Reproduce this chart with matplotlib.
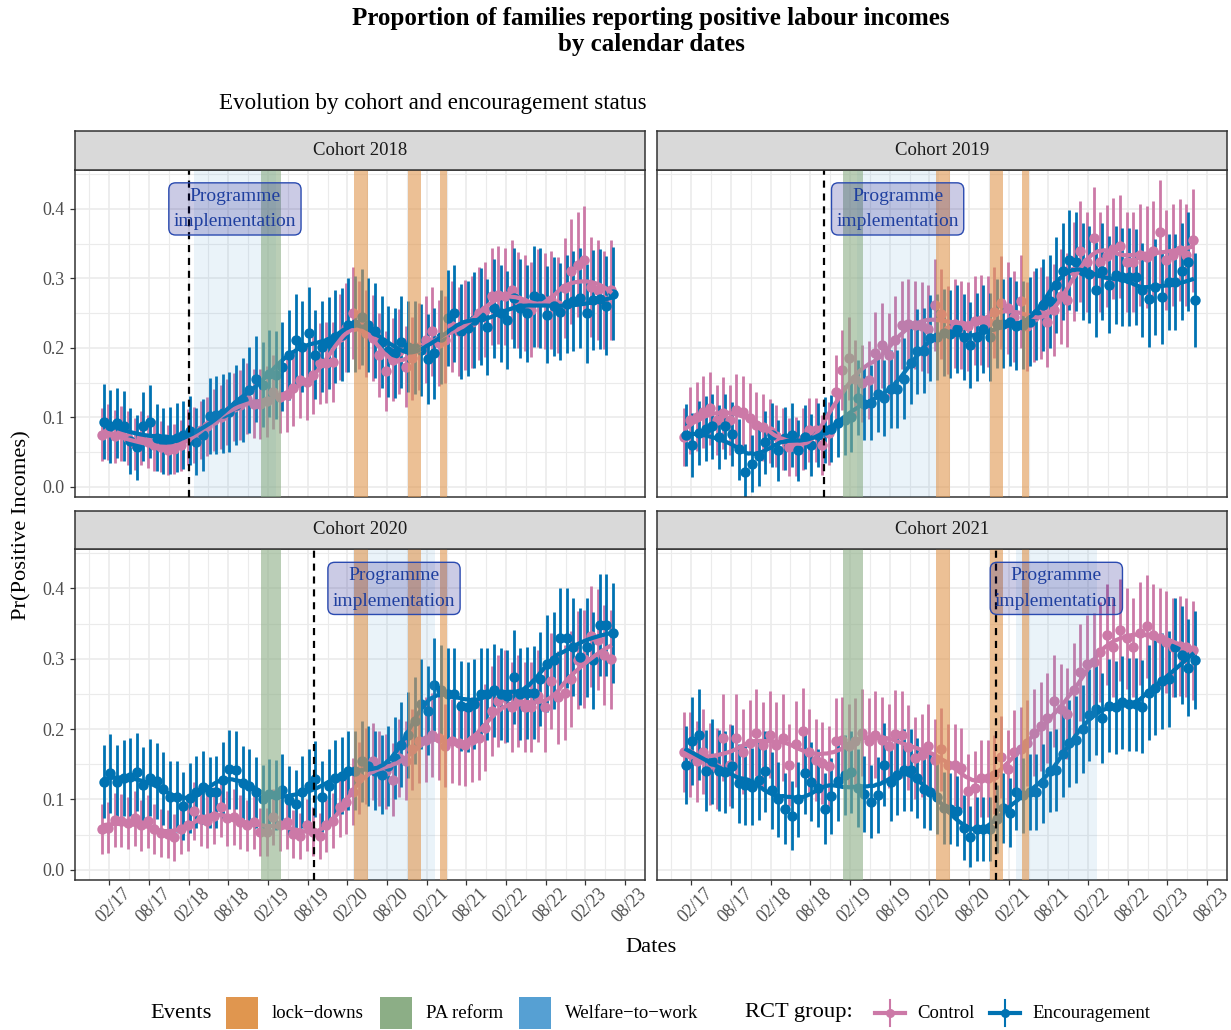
import numpy as np
import matplotlib
matplotlib.use('Agg')
import matplotlib.pyplot as plt
from matplotlib.patches import Rectangle
from matplotlib.lines import Line2D
from matplotlib.transforms import ScaledTranslation

plt.rcParams['font.family'] = ['Liberation Serif', 'DejaVu Serif']

# monthly survey waves, counted in months since Jan 2017 (Jan 2017 .. Jun 2023)
months = np.arange(78)

tick_pos = [1, 7, 13, 19, 25, 31, 37, 43, 49, 55, 61, 67, 73, 79]
tick_labels = ['02/17', '08/17', '02/18', '08/18', '02/19', '08/19', '02/20',
               '08/20', '02/21', '08/21', '02/22', '08/22', '02/23', '08/23']

cohort_names = ['Cohort 2018', 'Cohort 2019', 'Cohort 2020', 'Cohort 2021']

# share of families with positive labour income, control group
c18_ctl = [0.075, 0.079, 0.073, 0.077, 0.070, 0.062, 0.070, 0.065, 0.060, 0.058,
           0.053, 0.055, 0.060, 0.072, 0.075, 0.082, 0.087, 0.096, 0.101, 0.108,
           0.115, 0.118, 0.127, 0.120, 0.119, 0.123, 0.137, 0.130, 0.132, 0.142,
           0.154, 0.151, 0.161, 0.178, 0.179, 0.180, 0.216, 0.229, 0.250, 0.233,
           0.221, 0.214, 0.190, 0.167, 0.183, 0.195, 0.173, 0.185, 0.202, 0.212,
           0.224, 0.207, 0.212, 0.231, 0.224, 0.233, 0.237, 0.250, 0.255, 0.274,
           0.276, 0.274, 0.284, 0.269, 0.264, 0.255, 0.272, 0.267, 0.269, 0.262,
           0.286, 0.310, 0.320, 0.327, 0.288, 0.284, 0.269, 0.284]
c19_ctl = [0.072, 0.096, 0.101, 0.108, 0.113, 0.096, 0.106, 0.096, 0.110, 0.108,
           0.099, 0.089, 0.086, 0.081, 0.073, 0.069, 0.057, 0.058, 0.069, 0.082,
           0.082, 0.060, 0.077, 0.137, 0.168, 0.185, 0.156, 0.149, 0.154, 0.192,
           0.204, 0.190, 0.212, 0.233, 0.235, 0.233, 0.231, 0.227, 0.262, 0.249,
           0.226, 0.235, 0.233, 0.231, 0.239, 0.240, 0.238, 0.251, 0.265, 0.257,
           0.245, 0.267, 0.231, 0.245, 0.250, 0.238, 0.255, 0.274, 0.269, 0.310,
           0.339, 0.324, 0.358, 0.324, 0.332, 0.343, 0.346, 0.324, 0.324, 0.334,
           0.331, 0.339, 0.367, 0.327, 0.334, 0.341, 0.334, 0.355]
c20_ctl = [0.058, 0.060, 0.071, 0.070, 0.067, 0.073, 0.063, 0.069, 0.058, 0.052,
           0.051, 0.046, 0.058, 0.063, 0.084, 0.072, 0.069, 0.077, 0.089, 0.073,
           0.075, 0.068, 0.063, 0.068, 0.054, 0.054, 0.075, 0.064, 0.068, 0.051,
           0.048, 0.064, 0.054, 0.048, 0.063, 0.070, 0.089, 0.096, 0.111, 0.130,
           0.147, 0.154, 0.144, 0.140, 0.128, 0.159, 0.155, 0.171, 0.183, 0.185,
           0.192, 0.188, 0.176, 0.183, 0.180, 0.178, 0.185, 0.188, 0.202, 0.226,
           0.240, 0.246, 0.231, 0.240, 0.231, 0.231, 0.247, 0.231, 0.268, 0.245,
           0.252, 0.271, 0.298, 0.300, 0.332, 0.327, 0.305, 0.299]
c21_ctl = [0.168, 0.164, 0.154, 0.168, 0.150, 0.144, 0.188, 0.149, 0.188, 0.168,
           0.180, 0.195, 0.177, 0.192, 0.178, 0.188, 0.149, 0.179, 0.197, 0.168,
           0.156, 0.152, 0.147, 0.183, 0.184, 0.176, 0.183, 0.195, 0.183, 0.192,
           0.185, 0.176, 0.193, 0.192, 0.174, 0.159, 0.163, 0.176, 0.156, 0.171,
           0.149, 0.149, 0.144, 0.112, 0.116, 0.130, 0.130, 0.135, 0.160, 0.143,
           0.168, 0.171, 0.180, 0.195, 0.204, 0.216, 0.240, 0.228, 0.222, 0.255,
           0.281, 0.292, 0.295, 0.310, 0.334, 0.316, 0.341, 0.329, 0.316, 0.336,
           0.346, 0.334, 0.329, 0.324, 0.316, 0.318, 0.316, 0.312]

# same, encouragement group
c18_enc = [0.094, 0.087, 0.092, 0.088, 0.066, 0.057, 0.087, 0.094, 0.071, 0.066,
           0.067, 0.071, 0.075, 0.081, 0.065, 0.075, 0.102, 0.103, 0.106, 0.108,
           0.118, 0.125, 0.140, 0.155, 0.147, 0.163, 0.161, 0.173, 0.190, 0.212,
           0.202, 0.221, 0.190, 0.202, 0.207, 0.216, 0.219, 0.233, 0.235, 0.244,
           0.233, 0.225, 0.209, 0.195, 0.193, 0.209, 0.202, 0.200, 0.197, 0.184,
           0.192, 0.216, 0.243, 0.250, 0.224, 0.228, 0.240, 0.245, 0.230, 0.257,
           0.250, 0.240, 0.272, 0.257, 0.250, 0.274, 0.272, 0.248, 0.260, 0.252,
           0.263, 0.267, 0.272, 0.250, 0.269, 0.270, 0.261, 0.278]
c19_enc = [0.075, 0.060, 0.077, 0.084, 0.087, 0.072, 0.087, 0.076, 0.054, 0.022,
           0.033, 0.044, 0.064, 0.075, 0.053, 0.070, 0.075, 0.053, 0.072, 0.060,
           0.075, 0.082, 0.084, 0.092, 0.096, 0.101, 0.128, 0.120, 0.121, 0.134,
           0.128, 0.141, 0.141, 0.156, 0.179, 0.195, 0.196, 0.214, 0.216, 0.222,
           0.220, 0.227, 0.216, 0.204, 0.216, 0.227, 0.216, 0.235, 0.235, 0.238,
           0.232, 0.233, 0.238, 0.249, 0.262, 0.267, 0.291, 0.310, 0.327, 0.324,
           0.310, 0.306, 0.284, 0.310, 0.291, 0.305, 0.302, 0.302, 0.302, 0.283,
           0.270, 0.288, 0.273, 0.295, 0.295, 0.310, 0.324, 0.269]
c20_enc = [0.125, 0.137, 0.125, 0.130, 0.132, 0.139, 0.121, 0.131, 0.126, 0.115,
           0.104, 0.104, 0.091, 0.102, 0.111, 0.117, 0.110, 0.111, 0.128, 0.143,
           0.142, 0.123, 0.119, 0.110, 0.100, 0.108, 0.106, 0.113, 0.099, 0.094,
           0.111, 0.119, 0.129, 0.104, 0.119, 0.130, 0.134, 0.141, 0.141, 0.154,
           0.147, 0.141, 0.135, 0.147, 0.159, 0.178, 0.192, 0.212, 0.235, 0.226,
           0.263, 0.255, 0.250, 0.250, 0.233, 0.231, 0.235, 0.250, 0.250, 0.255,
           0.250, 0.247, 0.274, 0.250, 0.251, 0.252, 0.271, 0.293, 0.298, 0.330,
           0.330, 0.317, 0.303, 0.316, 0.298, 0.348, 0.348, 0.336]
c21_enc = [0.149, 0.183, 0.192, 0.141, 0.154, 0.141, 0.139, 0.147, 0.123, 0.120,
           0.118, 0.128, 0.140, 0.113, 0.100, 0.087, 0.077, 0.100, 0.137, 0.125,
           0.116, 0.087, 0.105, 0.126, 0.135, 0.139, 0.116, 0.108, 0.097, 0.106,
           0.149, 0.125, 0.135, 0.142, 0.142, 0.130, 0.115, 0.110, 0.104, 0.088,
           0.087, 0.084, 0.060, 0.047, 0.058, 0.058, 0.058, 0.072, 0.088, 0.081,
           0.110, 0.106, 0.111, 0.111, 0.123, 0.140, 0.142, 0.164, 0.180, 0.185,
           0.200, 0.220, 0.228, 0.216, 0.233, 0.231, 0.238, 0.235, 0.235, 0.232,
           0.252, 0.259, 0.268, 0.271, 0.316, 0.305, 0.287, 0.298]

# half-widths of the 95% confidence intervals
e18_ctl = [0.038, 0.040, 0.038, 0.040, 0.039, 0.037, 0.039, 0.038, 0.037, 0.037,
           0.036, 0.036, 0.037, 0.040, 0.040, 0.042, 0.043, 0.045, 0.046, 0.048,
           0.049, 0.050, 0.051, 0.050, 0.050, 0.051, 0.053, 0.052, 0.053, 0.054,
           0.055, 0.055, 0.056, 0.058, 0.058, 0.058, 0.062, 0.064, 0.066, 0.064,
           0.063, 0.062, 0.060, 0.058, 0.060, 0.061, 0.058, 0.060, 0.062, 0.063,
           0.064, 0.062, 0.063, 0.065, 0.064, 0.065, 0.066, 0.067, 0.068, 0.070,
           0.070, 0.070, 0.071, 0.069, 0.069, 0.068, 0.070, 0.069, 0.070, 0.069,
           0.072, 0.075, 0.076, 0.077, 0.072, 0.072, 0.070, 0.072]
e19_ctl = [0.042, 0.048, 0.050, 0.052, 0.053, 0.050, 0.052, 0.050, 0.052, 0.052,
           0.050, 0.048, 0.048, 0.046, 0.045, 0.044, 0.042, 0.042, 0.044, 0.046,
           0.046, 0.043, 0.045, 0.053, 0.058, 0.060, 0.056, 0.055, 0.056, 0.060,
           0.061, 0.060, 0.062, 0.064, 0.064, 0.064, 0.064, 0.063, 0.066, 0.065,
           0.063, 0.064, 0.064, 0.064, 0.064, 0.065, 0.065, 0.066, 0.067, 0.066,
           0.065, 0.067, 0.064, 0.065, 0.066, 0.065, 0.066, 0.068, 0.068, 0.071,
           0.073, 0.072, 0.074, 0.072, 0.073, 0.073, 0.074, 0.072, 0.072, 0.073,
           0.073, 0.073, 0.075, 0.072, 0.073, 0.073, 0.073, 0.074]
e20_ctl = [0.035, 0.036, 0.038, 0.038, 0.037, 0.039, 0.036, 0.038, 0.035, 0.034,
           0.034, 0.033, 0.035, 0.036, 0.041, 0.038, 0.038, 0.040, 0.043, 0.039,
           0.040, 0.038, 0.036, 0.038, 0.034, 0.034, 0.040, 0.037, 0.038, 0.034,
           0.033, 0.037, 0.035, 0.033, 0.037, 0.039, 0.043, 0.045, 0.048, 0.051,
           0.054, 0.055, 0.054, 0.053, 0.052, 0.056, 0.056, 0.058, 0.059, 0.060,
           0.060, 0.060, 0.059, 0.060, 0.060, 0.059, 0.060, 0.060, 0.062, 0.064,
           0.065, 0.066, 0.064, 0.065, 0.064, 0.064, 0.066, 0.064, 0.068, 0.066,
           0.067, 0.068, 0.070, 0.070, 0.072, 0.072, 0.071, 0.071]
e21_ctl = [0.057, 0.060, 0.058, 0.060, 0.058, 0.058, 0.062, 0.058, 0.062, 0.060,
           0.061, 0.062, 0.061, 0.062, 0.061, 0.062, 0.058, 0.061, 0.062, 0.060,
           0.058, 0.058, 0.057, 0.061, 0.061, 0.060, 0.061, 0.062, 0.061, 0.062,
           0.061, 0.060, 0.062, 0.062, 0.060, 0.058, 0.059, 0.060, 0.058, 0.059,
           0.058, 0.058, 0.057, 0.053, 0.053, 0.055, 0.055, 0.056, 0.058, 0.056,
           0.059, 0.060, 0.061, 0.062, 0.063, 0.064, 0.066, 0.065, 0.065, 0.067,
           0.069, 0.070, 0.070, 0.071, 0.072, 0.071, 0.073, 0.072, 0.071, 0.073,
           0.073, 0.072, 0.072, 0.072, 0.071, 0.071, 0.071, 0.070]
e18_enc = [0.054, 0.052, 0.050, 0.050, 0.048, 0.047, 0.050, 0.052, 0.048, 0.047,
           0.048, 0.050, 0.049, 0.050, 0.048, 0.052, 0.055, 0.056, 0.057, 0.058,
           0.058, 0.060, 0.062, 0.062, 0.061, 0.063, 0.063, 0.064, 0.065, 0.066,
           0.065, 0.067, 0.064, 0.066, 0.066, 0.067, 0.067, 0.068, 0.069, 0.069,
           0.068, 0.068, 0.066, 0.066, 0.065, 0.066, 0.066, 0.067, 0.066, 0.065,
           0.066, 0.068, 0.069, 0.070, 0.068, 0.069, 0.069, 0.070, 0.069, 0.071,
           0.070, 0.070, 0.072, 0.071, 0.070, 0.072, 0.072, 0.070, 0.071, 0.070,
           0.071, 0.072, 0.072, 0.071, 0.072, 0.072, 0.071, 0.067]
e19_enc = [0.045, 0.046, 0.046, 0.047, 0.047, 0.046, 0.047, 0.046, 0.044, 0.040,
           0.041, 0.043, 0.045, 0.046, 0.044, 0.045, 0.046, 0.044, 0.046, 0.045,
           0.046, 0.047, 0.048, 0.049, 0.050, 0.051, 0.054, 0.053, 0.054, 0.055,
           0.055, 0.056, 0.056, 0.058, 0.060, 0.061, 0.061, 0.062, 0.062, 0.063,
           0.063, 0.063, 0.062, 0.062, 0.063, 0.063, 0.063, 0.064, 0.064, 0.064,
           0.064, 0.064, 0.064, 0.066, 0.066, 0.067, 0.069, 0.070, 0.072, 0.071,
           0.070, 0.070, 0.069, 0.070, 0.070, 0.070, 0.070, 0.070, 0.069, 0.068,
           0.068, 0.069, 0.068, 0.069, 0.069, 0.070, 0.071, 0.068]
e20_enc = [0.052, 0.056, 0.053, 0.054, 0.055, 0.056, 0.053, 0.055, 0.054, 0.052,
           0.050, 0.050, 0.048, 0.050, 0.051, 0.052, 0.051, 0.051, 0.054, 0.056,
           0.056, 0.053, 0.052, 0.051, 0.049, 0.050, 0.050, 0.051, 0.049, 0.048,
           0.051, 0.052, 0.054, 0.050, 0.052, 0.054, 0.055, 0.056, 0.056, 0.058,
           0.057, 0.056, 0.056, 0.057, 0.058, 0.060, 0.061, 0.062, 0.064, 0.063,
           0.066, 0.065, 0.065, 0.065, 0.064, 0.064, 0.064, 0.065, 0.065, 0.066,
           0.065, 0.065, 0.067, 0.065, 0.065, 0.066, 0.067, 0.069, 0.069, 0.071,
           0.071, 0.070, 0.069, 0.070, 0.069, 0.072, 0.072, 0.071]
e21_enc = [0.055, 0.062, 0.065, 0.058, 0.060, 0.058, 0.058, 0.059, 0.056, 0.056,
           0.055, 0.057, 0.058, 0.055, 0.053, 0.051, 0.049, 0.053, 0.058, 0.056,
           0.055, 0.051, 0.054, 0.056, 0.057, 0.058, 0.055, 0.054, 0.052, 0.054,
           0.059, 0.056, 0.057, 0.058, 0.058, 0.057, 0.055, 0.054, 0.053, 0.051,
           0.050, 0.050, 0.046, 0.043, 0.045, 0.045, 0.045, 0.048, 0.050, 0.049,
           0.053, 0.053, 0.054, 0.054, 0.056, 0.058, 0.058, 0.061, 0.062, 0.062,
           0.063, 0.065, 0.065, 0.064, 0.066, 0.066, 0.066, 0.066, 0.066, 0.066,
           0.067, 0.068, 0.068, 0.068, 0.071, 0.070, 0.069, 0.070]

# events (months since Jan 2017)
lockdowns = [(38.0, 40.1), (46.1, 48.2), (51.0, 52.1)]
pa_reform = (24.0, 27.0)
programme_start = [13.0, 21.1, 32.0, 47.1]
welfare_to_work = [(13.8, 26.2), (26.0, 38.4), (37.9, 50.2), (50.1, 62.3)]

ctl_color = '#CC79A7'
enc_color = '#0072B2'
lock_color = '#E0964F'
pa_color = '#8CAE86'
wtw_color = '#56A0D3'


def loess(x, y, span=0.22, n_out=240):
    # local quadratic fit with tricube weights
    x = np.asarray(x, float)
    y = np.asarray(y, float)
    grid = np.linspace(x.min(), x.max(), n_out)
    k = int(np.ceil(span * len(x)))
    fit = []
    for x0 in grid:
        d = np.abs(x - x0)
        h = np.sort(d)[k - 1] * 1.0001
        w = np.clip(1 - (d / h) ** 3, 0, None) ** 3
        sw = np.sqrt(w)
        A = np.vander(x - x0, 3)
        coef = np.linalg.lstsq(A * sw[:, None], y * sw, rcond=None)[0]
        fit.append(coef[-1])
    return grid, np.array(fit)


W, H = 1231, 1030
fig = plt.figure(figsize=(W / 100, H / 100), dpi=100)


def box(l, t, r, b):
    return [l / W, 1 - b / H, (r - l) / W, (b - t) / H]


panel_boxes = [box(75, 170, 645, 497), box(657, 170, 1227, 497),
               box(75, 549, 645, 880), box(657, 549, 1227, 880)]
strip_boxes = [box(75, 131, 645, 170), box(657, 131, 1227, 170),
               box(75, 511, 645, 549), box(657, 511, 1227, 549)]

ctl_series = [(c18_ctl, e18_ctl), (c19_ctl, e19_ctl), (c20_ctl, e20_ctl), (c21_ctl, e21_ctl)]
enc_series = [(c18_enc, e18_enc), (c19_enc, e19_enc), (c20_enc, e20_enc), (c21_enc, e21_enc)]

dodge = 0.17
for i in range(4):
    ax = fig.add_axes(panel_boxes[i])
    ax.set_xlim(-4.18, 81.3)
    ax.set_ylim(-0.0145, 0.456)

    ax.set_xticks(tick_pos)
    ax.set_xticks(np.arange(-2, 83, 6), minor=True)
    ax.set_yticks([0.0, 0.1, 0.2, 0.3, 0.4])
    ax.set_yticks([0.05, 0.15, 0.25, 0.35, 0.45], minor=True)
    ax.set_yticklabels(['0.0', '0.1', '0.2', '0.3', '0.4'])
    ax.grid(which='major', color='#EBEBEB', lw=1.2, zorder=0)
    ax.grid(which='minor', color='#EBEBEB', lw=0.8, zorder=0)
    ax.set_axisbelow(True)
    for sp in ax.spines.values():
        sp.set_color('#333333')
        sp.set_linewidth(1.1)
    ax.tick_params(which='minor', length=0)
    ax.tick_params(which='major', length=3.5, width=0.9, color='#333333',
                   labelcolor='#4D4D4D', labelsize=13)
    ax.tick_params(axis='y', pad=4)

    if i < 2:
        ax.tick_params(axis='x', which='major', length=0, labelbottom=False)
    else:
        ax.set_xticklabels(tick_labels)
        ax.tick_params(axis='x', pad=15)
        for lbl in ax.get_xticklabels():
            lbl.set_rotation(45)
            lbl.set_ha('center')
            lbl.set_va('center')
            lbl.set_rotation_mode('anchor')
            lbl.set_transform(lbl.get_transform() + ScaledTranslation(0.045, 0, fig.dpi_scale_trans))
    if i % 2 == 1:
        ax.tick_params(axis='y', which='major', length=0, labelleft=False)

    yc, ec = ctl_series[i]
    ye, ee = enc_series[i]
    ax.errorbar(months - dodge, yc, yerr=ec, fmt='none', ecolor=ctl_color, elinewidth=2.0, zorder=2)
    ax.errorbar(months + dodge, ye, yerr=ee, fmt='none', ecolor=enc_color, elinewidth=2.0, zorder=2)
    ax.plot(months - dodge, yc, 'o', color=ctl_color, ms=7.5, mec='none', zorder=3)
    ax.plot(months + dodge, ye, 'o', color=enc_color, ms=7.5, mec='none', zorder=3)
    gx, gy = loess(months, yc)
    ax.plot(gx, gy, color=ctl_color, lw=3, zorder=4, solid_capstyle='butt')
    gx, gy = loess(months, ye)
    ax.plot(gx, gy, color=enc_color, lw=3, zorder=4, solid_capstyle='butt')

    # event windows
    w0, w1 = welfare_to_work[i]
    ax.axvspan(w0, w1, color=wtw_color, alpha=0.12, lw=0, zorder=5)
    ax.axvspan(pa_reform[0], pa_reform[1], color=pa_color, alpha=0.6, lw=0, zorder=5)
    for a, b in lockdowns:
        ax.axvspan(a, b, color=lock_color, alpha=0.6, lw=0, zorder=5)
    ax.axvline(programme_start[i], color='black', lw=1.6, dashes=(3.2, 2.6), zorder=6)

    ax.text((w0 + w1) / 2, 0.4, 'Programme\nimplementation', ha='center', va='center',
            fontsize=14, color='#1F3F9F', linespacing=1.65, zorder=7,
            bbox=dict(boxstyle='round,pad=0.25,rounding_size=0.35',
                      fc=(0.08, 0.08, 0.55, 0.22), ec='#2A4AB0', lw=1.0))

    sx = fig.add_axes(strip_boxes[i])
    sx.set_facecolor('#D9D9D9')
    sx.set_xticks([])
    sx.set_yticks([])
    for sp in sx.spines.values():
        sp.set_color('#333333')
        sp.set_linewidth(1.1)
    sx.text(0.5, 0.5, cohort_names[i], ha='center', va='center', fontsize=13.5,
            color='#1A1A1A', transform=sx.transAxes)

# titles and axis titles
fig.text(651 / W, 1 - 31.5 / H,
         'Proportion of families reporting positive labour incomes\nby calendar dates',
         ha='center', va='center', fontsize=18, fontweight='bold', linespacing=1.2)
fig.text(219 / W, 1 - 103 / H, 'Evolution by cohort and encouragement status',
         ha='left', va='center', fontsize=16.6)
fig.text(22 / W, 1 - 525 / H, 'Pr(Positive Incomes)', rotation=90,
         ha='center', va='center', fontsize=16.2)
fig.text(651 / W, 1 - 947 / H, 'Dates', ha='center', va='center', fontsize=16.2)

# legend along the bottom
ly = 1 - 1013 / H
fig.text(150 / W, ly, 'Events', ha='left', va='center', fontsize=16.2)
event_keys = [(226, lock_color, 'lock\u2212downs'), (380, pa_color, 'PA reform'),
              (519, wtw_color, 'Welfare\u2212to\u2212work')]
for x0, col, lab in event_keys:
    fig.add_artist(Rectangle((x0 / W, 1 - 1029 / H), 32 / W, 32 / H,
                             transform=fig.transFigure, fc=col, ec='none'))
    fig.text((x0 + 46) / W, ly, lab, ha='left', va='center', fontsize=13.5)

fig.text(745 / W, ly, 'RCT group:', ha='left', va='center', fontsize=16.2)
for xc, col, lab in [(890, ctl_color, 'Control'), (1005, enc_color, 'Encouragement')]:
    fig.add_artist(Line2D([(xc - 15) / W, (xc + 15) / W], [ly, ly],
                          transform=fig.transFigure, color=col, lw=3))
    fig.add_artist(Line2D([xc / W, xc / W], [ly - 13 / H, ly + 13 / H],
                          transform=fig.transFigure, color=col, lw=1.5))
    fig.add_artist(Line2D([xc / W], [ly], transform=fig.transFigure, color=col,
                          marker='o', ms=6.5, mec='none'))
    fig.text((xc + 27) / W, ly, lab, ha='left', va='center', fontsize=13.5)

fig.savefig('out.png', dpi=100)
